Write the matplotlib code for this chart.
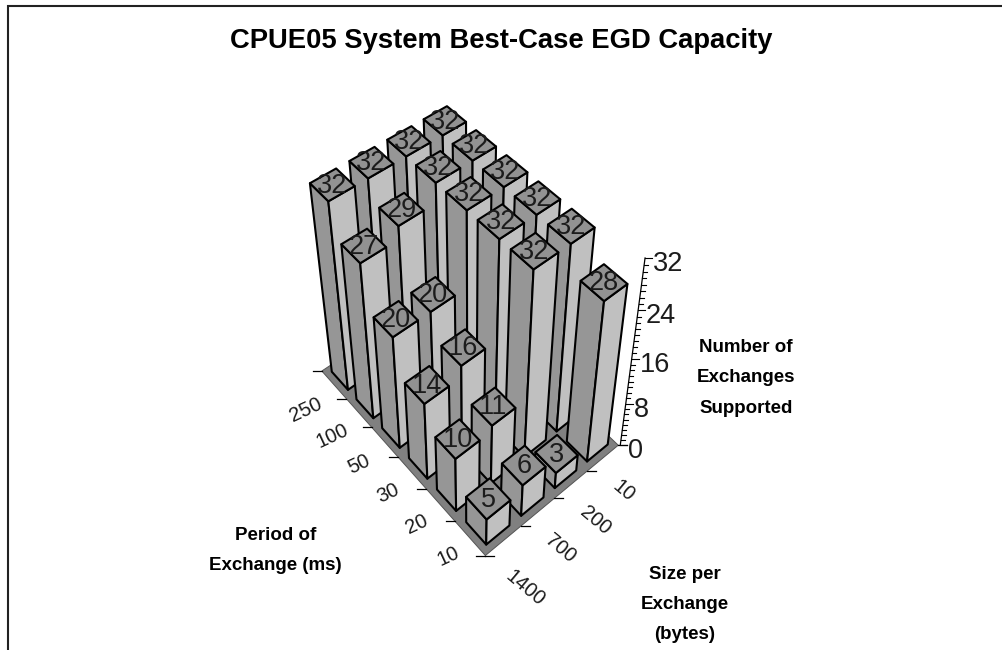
#!/usr/bin/env python
"""CPUE05 best-case EGD capacity as a hand-projected 3D bar chart."""

import matplotlib

matplotlib.use("Agg")
import matplotlib.pyplot as plt
import numpy as np
from matplotlib.patches import Polygon

plt.rcParams["font.family"] = ["Liberation Sans", "DejaVu Sans"]

# front to back along the left floor edge
periods = ["10", "20", "30", "50", "100", "250"]
# front to back along the right floor edge
sizes = ["1400", "700", "200", "10"]
exchanges_1400 = [5, 10, 14, 20, 27, 32]
exchanges_700 = [6, 11, 16, 20, 29, 32]
exchanges_200 = [3, 32, 32, 32, 32, 32]
exchanges_10 = [28, 32, 32, 32, 32, 32]
z_ticks = [0, 8, 16, 24, 32]

LEFT = "#969696"
RIGHT = "#c0c0c0"
TOP = "#929292"
FLOOR = "#808080"
INK = "#1c1c1c"
BAR_WIDTH = 0.66

# camera calibration: (period slot, size slot, height) -> canvas pixel
CALIBRATION = [
    (0, 0, 0, 485, 553), (6, 0, 0, 322, 370), (0, 4, 0, 618, 445), (0, 4, 32, 641, 258),
    (0.17, 3.17, 28, 603, 300), (0.83, 3.17, 28, 581, 282), (0.83, 3.83, 28, 604, 263), (0.17, 3.83, 28, 628, 283),
    (5.83, 3.17, 32, 423, 120), (5.83, 3.83, 32, 447, 105), (5.17, 3.83, 32, 467, 122), (5.17, 3.17, 32, 443, 137),
    (5.83, 0.17, 32, 310, 183), (5.83, 0.83, 32, 336, 168), (5.17, 0.83, 32, 354, 187), (5.17, 0.17, 32, 328, 202),
    (1.83, 3.17, 32, 548, 226), (1.83, 3.83, 32, 573, 208), (1.17, 3.83, 32, 595, 227), (1.17, 3.17, 32, 572, 244),
    (0.83, 0.17, 5, 466, 500), (0.83, 0.83, 5, 489, 479), (0.17, 0.83, 5, 511, 502), (0.17, 0.17, 5, 487, 520),
    (0.17, 0.17, 0, 487, 543), (0.83, 0.17, 0, 467, 522), (0.17, 0.83, 0, 510, 527),
    (4.83, 0.17, 27, 341, 244), (4.83, 0.83, 27, 367, 228), (4.17, 0.83, 27, 387, 247), (4.17, 0.17, 27, 361, 262),
    (1.83, 0.17, 10, 435, 437), (1.83, 0.83, 10, 458, 419), (1.17, 0.83, 10, 480, 440), (1.17, 0.17, 10, 455, 458),
    (1.17, 0.17, 0, 456, 511),
    (2.83, 1.17, 16, 442, 347), (2.83, 1.83, 16, 463, 331), (2.17, 1.83, 16, 485, 348), (2.17, 1.17, 16, 462, 365),
]


def fit_camera(points):
    """Least-squares 3x4 projective matrix (DLT) from the calibration points."""
    rows = []
    for u, v, z, x, y in points:
        rows.append([u, v, z, 1, 0, 0, 0, 0, -x * u, -x * v, -x * z, -x])
        rows.append([0, 0, 0, 0, u, v, z, 1, -y * u, -y * v, -y * z, -y])
    _, _, vt = np.linalg.svd(np.array(rows, dtype=float))
    return vt[-1].reshape(3, 4)


CAMERA = fit_camera(CALIBRATION)


def project(u, v, z=0.0):
    x, y, w = CAMERA @ np.array([u, v, z, 1.0])
    return x / w, y / w


fig = plt.figure(figsize=(10.03, 6.5), dpi=100)
ax = fig.add_axes([0, 0, 1, 1])
ax.set_xlim(0, 1003)
ax.set_ylim(650, 0)
ax.axis("off")

# page frame, open at the right and bottom
ax.plot([8, 8, 1003], [650, 5.5, 5.5], color="#222222", lw=1.5, solid_joinstyle="miter")

ax.text(501.5, 41, "CPUE05 System Best-Case EGD Capacity", ha="center", va="center",
        fontsize=19.7, fontweight="bold", color="black")

# floor
corners = [project(0, 0), project(6, 0), project(6, 4), project(0, 4)]
ax.add_patch(Polygon(corners, closed=True, facecolor=FLOOR, edgecolor="#555555", lw=0.7, zorder=1))

# floor ticks
for k in range(7):
    x, y = project(k, 0)
    ax.plot([x - 9, x], [y, y], color="black", lw=0.9, zorder=1)
for k in range(5):
    x, y = project(0, k)
    ax.plot([x, x + 9], [y, y], color="black", lw=0.9, zorder=1)

# category labels
for k, name in enumerate(periods):
    x, y = project(k + 0.5, 0)
    ax.text(x - 22 - 1.2 * k, y + 18 + 1.4 * k, name, rotation=25, ha="center", va="center", fontsize=14.5,
            color=INK, rotation_mode="anchor")
size_offsets = {"1400": (22, 47), "700": (23, 36), "200": (24, 36), "10": (21, 33)}
for k, name in enumerate(sizes):
    x, y = project(0, k + 0.5)
    dx, dy = size_offsets[name]
    ax.text(x + dx, y + dy, name, rotation=-40, ha="center", va="center", fontsize=14.5,
            color=INK, rotation_mode="anchor")

# bars, painted from the far corner forward
values = np.array([exchanges_1400, exchanges_700, exchanges_200, exchanges_10])
gap = (1 - BAR_WIDTH) / 2
order = sorted(
    ((i, j) for i in range(len(periods)) for j in range(len(sizes))),
    key=lambda p: -(p[0] + p[1]),
)
edge = dict(edgecolor="black", lw=1.5, joinstyle="round", zorder=2)
for i, j in order:
    z = values[j][i]
    u0, u1 = i + gap, i + 1 - gap
    v0, v1 = j + gap, j + 1 - gap
    ax.add_patch(Polygon([project(u0, v0), project(u1, v0), project(u1, v0, z), project(u0, v0, z)],
                         closed=True, facecolor=LEFT, **edge))
    ax.add_patch(Polygon([project(u0, v0), project(u0, v1), project(u0, v1, z), project(u0, v0, z)],
                         closed=True, facecolor=RIGHT, **edge))
    ax.add_patch(Polygon([project(u0, v0, z), project(u1, v0, z), project(u1, v1, z), project(u0, v1, z)],
                         closed=True, facecolor=TOP, **edge))

# value labels sit over everything
for i, j in order:
    z = values[j][i]
    x, y = project(i + 0.5, j + 0.5, z)
    ax.text(x, y + 1, str(z), ha="center", va="center", fontsize=19.5, color=INK, zorder=5)

# height axis
ax_x0, ax_y0 = project(0, 4, 0)
top_x, top_y = project(0, 4, 32)
ax.plot([ax_x0 + 2, top_x + 2], [ax_y0, top_y], color="black", lw=0.9, zorder=3)
for z in range(33):
    x, y = project(0, 4, z)
    length = 7 if z % 8 == 0 else 4
    ax.plot([x + 2, x + 2 + length], [y, y], color="black", lw=0.8, zorder=3)
for z in z_ticks:
    x, y = project(0, 4, z)
    ax.text(x + 10, y + 6, str(z), ha="left", va="center", fontsize=19.5, color=INK)

# axis titles
bold = dict(ha="center", va="center", fontsize=13.5, fontweight="bold", color="black", linespacing=2.03)
ax.text(275.5, 550.5, "Period of\nExchange (ms)", **bold)
ax.text(746, 378, "Number of\nExchanges\nSupported", **bold)
ax.text(685, 604.5, "Size per\nExchange\n(bytes)", **bold)

fig.savefig("out.png", dpi=100)
